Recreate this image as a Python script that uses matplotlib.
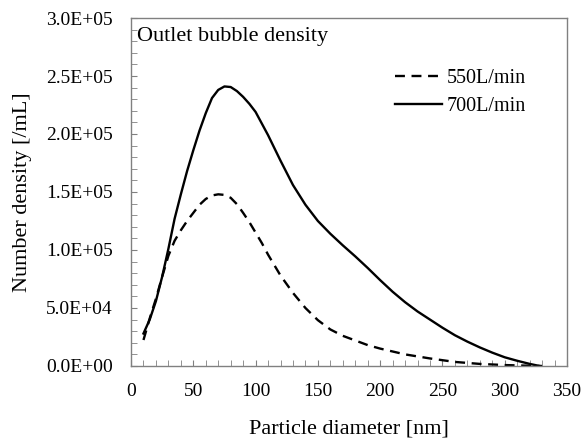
import matplotlib
matplotlib.use('Agg')
import matplotlib.pyplot as plt
from matplotlib.ticker import MultipleLocator, FuncFormatter

plt.rcParams['font.family'] = ['Liberation Serif', 'DejaVu Serif']

# particle diameter [nm] and number density [/mL]
d_550 = [10, 15, 20, 25, 30, 35, 40, 45, 50, 55, 60, 65, 70, 75, 80, 85, 90, 95,
         100, 105, 110, 120, 130, 140, 150, 160, 170, 180, 190, 200, 220, 240,
         260, 280, 300, 320, 330]
n_550 = [22.4e3, 41e3, 58e3, 77e3, 95e3, 108e3, 117e3, 125e3, 132e3, 139e3, 144e3,
         147e3, 148e3, 147.5e3, 145e3, 139.5e3, 132e3, 124e3, 115e3, 106e3, 96e3,
         78e3, 63e3, 50e3, 39.5e3, 31.5e3, 26e3, 22e3, 18e3, 15e3, 10e3, 6.5e3,
         3.5e3, 1.8e3, 0.8e3, 0.2e3, 0]

d_700 = [10, 15, 20, 25, 30, 35, 40, 45, 50, 55, 60, 65, 70, 75, 80, 85, 90, 95,
         100, 110, 120, 130, 140, 150, 160, 170, 180, 190, 200, 210, 220, 230,
         240, 250, 260, 270, 280, 290, 300, 310, 320, 328]
n_700 = [28e3, 40e3, 56e3, 77e3, 101e3, 127e3, 148e3, 168e3, 186e3, 203e3, 218e3,
         231e3, 238e3, 241e3, 240.5e3, 237e3, 232e3, 226e3, 219e3, 199e3, 177e3,
         156e3, 139e3, 125e3, 114e3, 104e3, 94.5e3, 84.5e3, 74e3, 64e3, 55e3, 47e3,
         40e3, 33e3, 26.5e3, 21e3, 16e3, 11.5e3, 7.5e3, 4.5e3, 1.8e3, 0]

fig = plt.figure(figsize=(5.81, 4.38), dpi=100)
ax = fig.add_axes([0.2255, 0.1644, 0.7505, 0.7945])

ax.plot(d_550, n_550, color='black', lw=1.7, linestyle=(0, (4.2, 2.8)),
        solid_joinstyle='round', label='550L/min')
ax.plot(d_700, n_700, color='black', lw=1.7, solid_joinstyle='round',
        label='700L/min')

ax.set_xlim(0, 350)
ax.set_ylim(0, 3.0e5)
ax.xaxis.set_major_locator(MultipleLocator(50))
ax.xaxis.set_minor_locator(MultipleLocator(10))
ax.yaxis.set_major_locator(MultipleLocator(5e4))
ax.yaxis.set_minor_locator(MultipleLocator(1e4))
ax.yaxis.set_major_formatter(FuncFormatter(lambda v, p: f'{v:.1E}'))

for s in ax.spines.values():
    s.set_color('#808080')
    s.set_linewidth(1.0)
ax.tick_params(which='both', direction='in', length=4, color='#808080',
               top=False, right=False)
ax.tick_params(axis='x', which='major', labelsize=14, pad=12)
ax.tick_params(axis='y', which='major', labelsize=14, pad=13)

ax.set_xlabel('Particle diameter [nm]', fontsize=16, labelpad=14)
ax.set_ylabel('Number density [/mL]', fontsize=16, labelpad=10)

ax.text(0.014, 0.934, 'Outlet bubble density', transform=ax.transAxes,
        fontsize=16, va='baseline', ha='left')

ax.legend(loc='upper left', bbox_to_anchor=(0.6055, 0.853), frameon=False,
          fontsize=14.5, handlelength=2.35, handletextpad=0.2, labelspacing=0.45,
          borderpad=0, borderaxespad=0)

fig.savefig('out.png', dpi=100)
